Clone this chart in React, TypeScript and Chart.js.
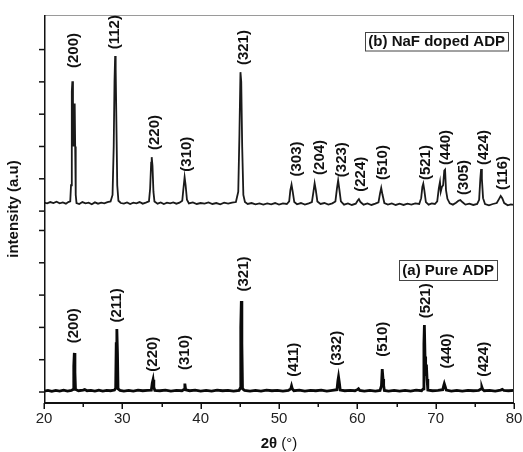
import React, { useEffect, useRef } from "react";
import { Chart, registerables } from "chart.js";

Chart.register(...registerables);

// ---- Data (2θ in degrees, intensity in arbitrary units) ----
const dopedTheta = [
  20.0, 20.4, 20.8, 21.2, 21.6, 22.0, 22.4, 22.8, 23.1, 23.35, 23.45, 23.55, 23.62, 23.7, 23.78, 23.86, 23.92, 23.98, 24.05, 24.15,
  24.5, 24.9, 25.3, 25.7, 26.1, 26.5, 26.9, 27.3, 27.7, 28.1, 28.5, 28.75, 28.9, 29.0, 29.08, 29.15, 29.25, 29.35, 29.5, 29.8,
  30.2, 30.6, 31.0, 31.4, 31.8, 32.2, 32.6, 33.0, 33.4, 33.55, 33.68, 33.75, 33.85, 33.97, 34.1, 34.5, 34.9, 35.3, 35.7, 36.1,
  36.5, 36.9, 37.3, 37.65, 37.8, 37.95, 38.08, 38.25, 38.5, 39.0, 39.5, 40.0, 40.5, 41.0, 41.5, 42.0, 42.5, 43.0, 43.5, 44.0,
  44.5, 44.8, 44.95, 45.08, 45.18, 45.3, 45.45, 45.65, 46.0, 46.5, 47.0, 47.5, 48.0, 48.5, 49.0, 49.5, 50.0, 50.5, 51.0, 51.3,
  51.45, 51.6, 51.75, 51.95, 52.3, 52.8, 53.3, 53.8, 54.2, 54.4, 54.55, 54.7, 54.9, 55.3, 55.8, 56.3, 56.8, 57.2, 57.4, 57.55,
  57.7, 57.9, 58.3, 58.8, 59.3, 59.8, 60.05, 60.2, 60.4, 60.8, 61.3, 61.8, 62.3, 62.7, 62.9, 63.05, 63.2, 63.45, 63.9, 64.4,
  64.9, 65.4, 65.9, 66.4, 66.9, 67.4, 67.9, 68.15, 68.3, 68.42, 68.55, 68.75, 69.1, 69.5, 69.9, 70.2, 70.4, 70.55, 70.65, 70.8,
  70.95, 71.1, 71.2, 71.32, 71.5, 71.8, 72.2, 72.6, 72.9, 73.15, 73.4, 73.8, 74.3, 74.8, 75.3, 75.55, 75.7, 75.8, 75.9, 76.05,
  76.3, 76.8, 77.3, 77.8, 78.1, 78.3, 78.5, 78.75, 79.2, 79.6, 80.0,
];
const dopedIntensity = [
  586, 584, 588, 585, 589, 584, 587, 583, 588, 590, 640, 930, 962, 900, 760, 880, 893, 760, 610, 585,
  582, 588, 584, 586, 581, 587, 583, 586, 584, 588, 590, 610, 760, 960, 1040, 1000, 820, 640, 592, 585,
  583, 587, 582, 586, 584, 588, 583, 586, 590, 630, 710, 727, 700, 620, 590, 583, 587, 582, 586, 584,
  587, 583, 586, 592, 630, 665, 640, 595, 584, 587, 582, 585, 583, 587, 582, 585, 581, 586, 583, 586,
  588, 620, 800, 990, 960, 760, 610, 588, 582, 585, 581, 584, 580, 584, 581, 585, 580, 584, 582, 590,
  625, 642, 620, 588, 581, 585, 580, 584, 588, 620, 646, 625, 590, 582, 585, 580, 584, 590, 630, 655,
  628, 590, 580, 584, 579, 583, 593, 597, 588, 580, 584, 579, 583, 587, 615, 632, 612, 585, 580, 584,
  579, 583, 579, 583, 580, 584, 582, 600, 635, 645, 625, 588, 580, 584, 582, 590, 630, 650, 620, 635,
  640, 685, 688, 625, 598, 584, 580, 586, 592, 594, 588, 580, 583, 579, 582, 595, 660, 690, 660, 600,
  582, 578, 582, 585, 598, 607, 600, 585, 578, 581, 579,
];

const pureTheta = [
  20.0, 20.5, 21.0, 21.5, 22.0, 22.5, 23.0, 23.5, 23.72, 23.8, 23.87, 23.95, 24.02, 24.4, 25.0, 25.2, 25.5, 26.0, 26.5, 27.0,
  27.5, 28.0, 28.5, 29.0, 29.15, 29.22, 29.3, 29.38, 29.45, 29.7, 30.2, 30.8, 31.4, 32.0, 32.6, 33.2, 33.7, 33.82, 33.92, 34.02,
  34.15, 34.8, 35.5, 36.2, 36.9, 37.6, 37.88, 37.98, 38.08, 38.6, 39.3, 40.0, 40.7, 41.4, 42.1, 42.8, 43.5, 44.2, 44.9, 45.05,
  45.12, 45.19, 45.26, 45.34, 45.6, 46.3, 47.0, 47.7, 48.4, 49.1, 49.8, 50.5, 51.2, 51.5, 51.6, 51.7, 51.9, 52.6, 53.3, 54.0,
  54.7, 55.4, 56.1, 56.8, 57.4, 57.52, 57.6, 57.7, 57.82, 58.4, 59.1, 59.7, 60.05, 60.15, 60.3, 60.9, 61.6, 62.3, 62.9, 63.08,
  63.18, 63.28, 63.36, 63.45, 64.0, 64.7, 65.4, 66.1, 66.8, 67.5, 68.2, 68.42, 68.5, 68.56, 68.64, 68.72, 68.82, 68.9, 69.0, 69.6,
  70.3, 70.9, 71.03, 71.1, 71.2, 71.35, 72.0, 72.7, 73.4, 74.1, 74.8, 75.5, 75.8, 75.9, 76.0, 76.2, 76.9, 77.6, 78.3, 78.5,
  78.7, 79.3, 80.0,
];
const pureIntensity = [
  3, 5, 2, 5, 3, 6, 3, 5, 8, 80, 121, 60, 8, 4, 6, 8, 4, 5, 3, 6,
  3, 5, 4, 6, 12, 150, 195, 120, 10, 5, 3, 5, 3, 6, 4, 5, 6, 28, 38, 15,
  5, 4, 6, 3, 5, 4, 8, 26, 7, 4, 6, 3, 5, 3, 6, 4, 5, 3, 5, 12,
  200, 282, 150, 10, 5, 3, 5, 3, 6, 4, 5, 3, 5, 10, 19, 10, 4, 6, 3, 5,
  4, 6, 3, 5, 7, 35, 47, 30, 6, 4, 5, 4, 8, 10, 5, 3, 5, 3, 5, 20,
  71, 40, 20, 5, 3, 5, 3, 5, 3, 6, 4, 10, 150, 207, 110, 50, 85, 40, 6, 4,
  5, 7, 20, 26, 18, 6, 3, 5, 3, 5, 4, 5, 10, 15, 8, 4, 5, 3, 6, 8,
  5, 4, 5,
];

// Miller-index labels (text, 2θ of label, intensity where the label starts)
const dopedLabels = ["(200)", "(112)", "(220)", "(310)", "(321)", "(303)", "(204)", "(323)", "(224)", "(510)", "(521)", "(440)", "(305)", "(424)", "(116)"];
const dopedLabelTheta = [23.83, 29.06, 34.21, 38.29, 45.57, 52.34, 55.24, 58.08, 60.43, 63.32, 68.73, 71.32, 73.62, 76.21, 78.64];
const dopedLabelLevel = [1003, 1061, 749, 682, 1012, 667, 672, 665, 620, 656, 656, 703, 610, 703, 625];

const pureLabels = ["(200)", "(211)", "(220)", "(310)", "(321)", "(411)", "(332)", "(510)", "(521)", "(440)", "(424)"];
const pureLabelTheta = [23.79, 29.28, 33.95, 38.0, 45.57, 51.95, 57.37, 63.32, 68.77, 71.41, 76.21];
const pureLabelLevel = [151, 215, 63, 68, 311, 47, 81, 109, 228, 73, 47];

const seriesNames = ["(b) NaF doped ADP", "(a) Pure ADP"];

const xMinorTicks = [25, 35, 45, 55, 65, 75];
const yTickValues = [0, 100, 200, 300, 400, 500, 560, 660, 760, 860, 960, 1060];

const FONT = '"Liberation Sans", Arial, Helvetica, sans-serif';

const decorPlugin = {
  id: "decor",
  afterDraw(chart: any) {
    const { ctx, chartArea: a, scales } = chart;
    const xs = scales.x;
    const ys = scales.y;
    const seg = (x1: number, y1: number, x2: number, y2: number) => {
      ctx.beginPath();
      ctx.moveTo(x1, y1);
      ctx.lineTo(x2, y2);
      ctx.stroke();
    };
    ctx.save();
    ctx.lineCap = "butt";
    // frame
    ctx.strokeStyle = "#9a9a9a";
    ctx.lineWidth = 1;
    seg(a.left, a.top + 0.5, a.right, a.top + 0.5);
    ctx.strokeStyle = "#333";
    seg(a.right - 0.5, a.top, a.right - 0.5, a.bottom);
    ctx.strokeStyle = "#111";
    ctx.lineWidth = 1.5;
    seg(a.left + 0.75, a.top, a.left + 0.75, a.bottom + 1);
    ctx.lineWidth = 2;
    seg(a.left, a.bottom, a.right, a.bottom);
    // x ticks
    ctx.lineWidth = 1.5;
    xs.ticks.forEach((t: any) => {
      const px = Math.round(xs.getPixelForValue(t.value)) + 0.25;
      seg(px, a.bottom, px, a.bottom + 6);
    });
    xMinorTicks.forEach((v) => {
      const px = Math.round(xs.getPixelForValue(v)) + 0.25;
      seg(px, a.bottom, px, a.bottom + 4);
    });
    // y ticks
    yTickValues.forEach((v) => {
      const py = ys.getPixelForValue(v);
      seg(a.left - 5, py, a.left, py);
    });

    // peak labels
    ctx.fillStyle = "#111";
    ctx.font = `bold 15px ${FONT}`;
    ctx.textAlign = "left";
    ctx.textBaseline = "middle";
    const drawLabels = (texts: string[], th: number[], lv: number[]) => {
      texts.forEach((s, i) => {
        ctx.save();
        ctx.translate(xs.getPixelForValue(th[i]), ys.getPixelForValue(lv[i]));
        ctx.rotate(-Math.PI / 2);
        ctx.fillText(s, 0, 0);
        ctx.restore();
      });
    };
    drawLabels(dopedLabels, dopedLabelTheta, dopedLabelLevel);
    drawLabels(pureLabels, pureLabelTheta, pureLabelLevel);

    // series name boxes
    const box = (s: string, right: number, top: number, h: number) => {
      ctx.font = `bold 15px ${FONT}`;
      const w = ctx.measureText(s).width;
      const left = right - w - 6;
      ctx.strokeStyle = "#444";
      ctx.lineWidth = 1;
      ctx.strokeRect(Math.round(left) + 0.5, Math.round(top) + 0.5, Math.round(w + 6), h);
      ctx.fillStyle = "#111";
      ctx.textAlign = "left";
      ctx.textBaseline = "middle";
      ctx.fillText(s, left + 3, top + h / 2 + 1);
    };
    box(seriesNames[0], 508, 31.5, 18.5);
    box(seriesNames[1], 497, 259.5, 20);

    // x axis title: bold "2θ" + regular " (°)"
    const midX = (a.left + a.right) / 2;
    const ty = 444;
    ctx.textBaseline = "middle";
    ctx.textAlign = "left";
    ctx.font = `bold 15px ${FONT}`;
    const p1 = "2θ";
    const w1 = ctx.measureText(p1).width;
    ctx.font = `15px ${FONT}`;
    const p2 = " (°)";
    const w2 = ctx.measureText(p2).width;
    const start = midX - (w1 + w2) / 2;
    ctx.font = `bold 15px ${FONT}`;
    ctx.fillText(p1, start, ty);
    ctx.font = `15px ${FONT}`;
    ctx.fillText(p2, start + w1, ty);
    ctx.restore();
  },
};

export default function App() {
  const ref = useRef<HTMLCanvasElement | null>(null);
  useEffect(() => {
    if (!ref.current) return;
    const chart = new Chart(ref.current, {
      type: "line",
      data: {
        datasets: [
          {
            label: seriesNames[0],
            data: dopedTheta.map((t, i) => ({ x: t, y: dopedIntensity[i] })),
            borderColor: "#1a1a1a",
            borderWidth: 1.8,
            pointRadius: 0,
            tension: 0,
          },
          {
            label: seriesNames[1],
            data: pureTheta.map((t, i) => ({ x: t, y: pureIntensity[i] })),
            borderColor: "#0a0a0a",
            borderWidth: 2.8,
            pointRadius: 0,
            tension: 0,
          },
        ],
      },
      options: {
        animation: false,
        responsive: false,
        layout: { padding: { top: 15, right: 9, left: 0, bottom: 0 } },
        plugins: { legend: { display: false }, tooltip: { enabled: false } },
        scales: {
          x: {
            type: "linear",
            min: 20,
            max: 80,
            grid: { display: false },
            border: { display: false },
            ticks: {
              stepSize: 10,
              maxRotation: 0,
              padding: -1,
              color: "#222",
              font: { family: FONT, size: 15 },
            },
            afterFit: (s: any) => {
              s.height = 49;
              s.paddingLeft = 0;
              s.paddingRight = 0;
            },
          },
          y: {
            type: "linear",
            min: -34,
            max: 1167,
            grid: { display: false },
            border: { display: false },
            ticks: { display: false },
            title: {
              display: true,
              text: "intensity (a.u)",
              color: "#111",
              font: { family: FONT, size: 15, weight: "bold" },
              padding: { top: 5, bottom: 0 },
            },
            afterFit: (s: any) => {
              s.width = 44;
              s.paddingTop = 0;
              s.paddingBottom = 0;
            },
          },
        },
      },
      plugins: [decorPlugin],
    });
    return () => chart.destroy();
  }, []);
  return (
    <div style={{ position: "fixed", left: 0, top: 0, width: 523, height: 452, background: "#fff" }}>
      <canvas ref={ref} width={523} height={452} style={{ display: "block" }} />
    </div>
  );
}
